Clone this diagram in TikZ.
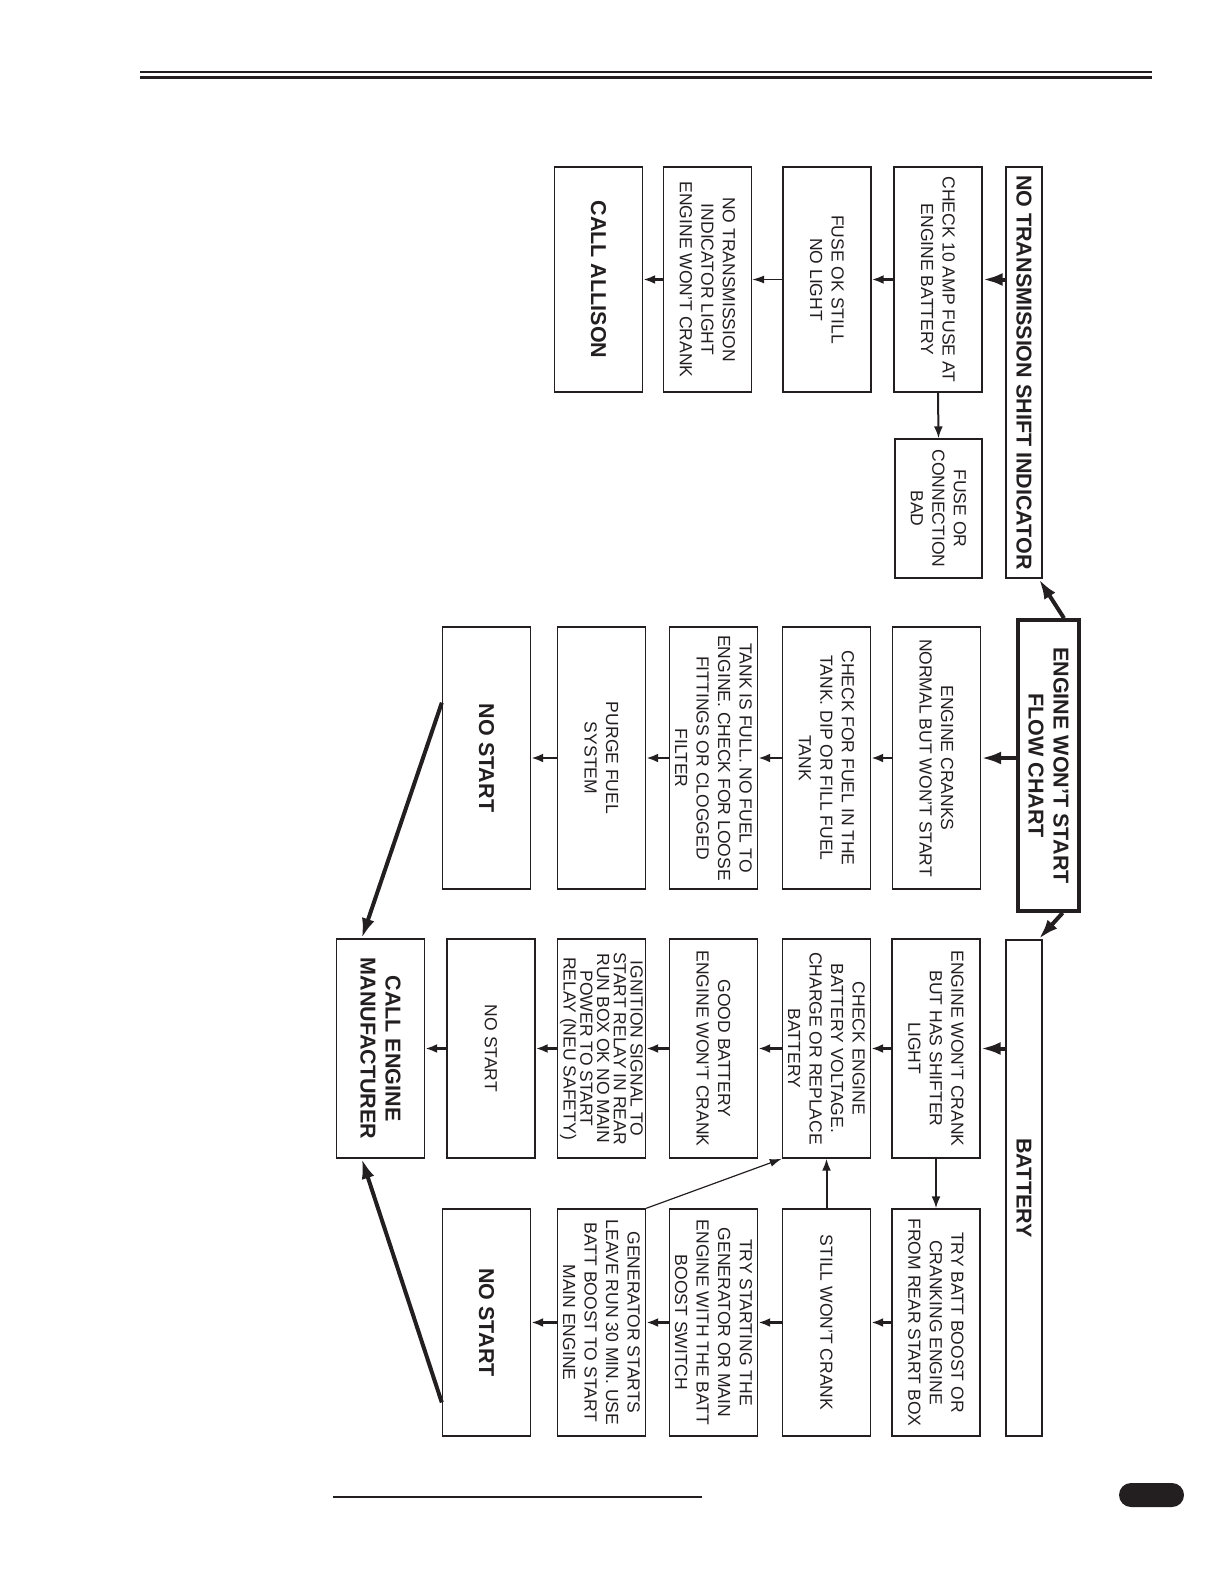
\documentclass[tikz,border=0pt]{standalone}
\usepackage{fontspec}
\setmainfont{Liberation Sans}
\usetikzlibrary{arrows.meta,calc}
\definecolor{ink}{RGB}{35,31,32}

\begin{document}
\begin{tikzpicture}[
  x=0.5bp, y=-0.5bp,
  >=Latex,
  box/.style={draw=ink, text=ink, line width=0.7bp, rotate=-90, align=center, inner sep=1bp,
    font=\fontsize{8.8}{10.8}\selectfont},
  hdbox/.style={box, font=\bfseries\fontsize{10.8}{12.6}\selectfont},
  rowtop/.style={minimum width=112.5bp, minimum height=44bp},
  rowmid/.style={minimum width=131bp, minimum height=44bp},
  rowbot/.style={minimum width=109.5bp, minimum height=44bp},
  rowlow/.style={minimum width=113.5bp, minimum height=44bp},
  arr/.style={draw=ink, line width=1.3bp, -{Latex[length=6bp,width=4.5bp]}},
  thinarr/.style={draw=ink, line width=0.6bp, -{Latex[length=6bp,width=4bp]}},
  bigarr/.style={draw=ink, line width=2bp, -{Latex[length=10bp,width=6.5bp]}}
]
\useasboundingbox (0,0) rectangle (1224,1584);

% page rules
\draw[ink, line width=1.35bp] (140,72) -- (1152,72);
\draw[ink, line width=1.35bp] (140,77.5) -- (1152,77.5);
\draw[ink, line width=0.6bp] (333,1497) -- (702,1497);
\fill[ink, rounded corners=6bp] (1119,1483) rectangle (1184,1507);

% no transmission shift indicator
\node[hdbox, line width=1.2bp, minimum width=205.5bp, minimum height=18bp] (ntsi) at (1024,372.5) {NO TRANSMISSION SHIFT INDICATOR};
\node[box, rowtop] (chkfuse) at (938,279.5) {CHECK 10 AMP FUSE AT\\ENGINE BATTERY};
\node[box, rowtop] (fuseok) at (827,279.5) {FUSE OK STILL\\NO LIGHT};
\node[box, rowtop] (noind) at (707.5,279.5) {NO TRANSMISSION\\INDICATOR LIGHT\\ENGINE WON'T CRANK};
\node[hdbox, rowtop] (allison) at (598.5,279.5) {CALL ALLISON};
\node[box, minimum width=69.5bp, minimum height=43.5bp] (fusebad) at (938.5,508.5) {FUSE OR\\CONNECTION\\BAD};

% engine cranks
\node[hdbox, line width=1.8bp, minimum width=145.5bp, minimum height=30.5bp] (ews) at (1048.5,765.5) {ENGINE WON'T START\\FLOW CHART};
\node[box, rowmid] (cranks) at (936.5,758) {ENGINE CRANKS\\NORMAL BUT WON'T START};
\node[box, rowmid] (fuelchk) at (826.5,758) {CHECK FOR FUEL IN THE\\TANK. DIP OR FILL FUEL\\TANK};
\node[box, rowmid] (tankfull) at (713.5,758) {TANK IS FULL. NO FUEL TO\\ENGINE. CHECK FOR LOOSE\\FITTINGS OR CLOGGED\\FILTER};
\node[box, rowmid] (purge) at (601.5,758) {PURGE FUEL\\SYSTEM};
\node[hdbox, rowmid] (nostartA) at (486.5,758) {NO START};

% battery
\node[hdbox, line width=1bp, minimum width=248bp, minimum height=18bp] (batt) at (1024,1188) {BATTERY};
\node[box, rowbot] (nocrank) at (936,1048.5) {ENGINE WON'T CRANK\\BUT HAS SHIFTER\\LIGHT};
\node[box, rowbot] (chkbatt) at (826.5,1048.5) {CHECK ENGINE\\BATTERY VOLTAGE.\\CHARGE OR REPLACE\\BATTERY};
\node[box, rowbot] (goodbatt) at (713.5,1048.5) {GOOD BATTERY\\ENGINE WON'T CRANK};
\node[box, rowbot, font=\fontsize{8.8}{8.4}\selectfont] (ignition) at (601.5,1048.5) {IGNITION SIGNAL TO\\START RELAY IN REAR\\RUN BOX OK NO MAIN\\POWER TO START\\RELAY (NEU SAFETY)};
\node[box, rowbot] (nostartB) at (491,1048.5) {NO START};
\node[hdbox, rowbot] (callmfr) at (380.5,1048.5) {CALL ENGINE\\MANUFACTURER};

\node[box, rowlow] (trybb) at (936,1322.5) {TRY BATT BOOST OR\\CRANKING ENGINE\\FROM REAR START BOX};
\node[box, rowlow] (stillno) at (826.5,1322.5) {STILL WON'T CRANK};
\node[box, rowlow] (trygen) at (713.5,1322.5) {TRY STARTING THE\\GENERATOR OR MAIN\\ENGINE WITH THE BATT\\BOOST SWITCH};
\node[box, rowlow] (genok) at (601.5,1322.5) {GENERATOR STARTS\\LEAVE RUN 30 MIN. USE\\BATT BOOST TO START\\MAIN ENGINE};
\node[hdbox, rowlow] (nostartC) at (486.5,1322.5) {NO START};

% connectors
\draw[bigarr] ($(ews.south west)!0.74!(ews.north west)$) -- ($(ntsi.south east)!0.89!(ntsi.north east)$);
\draw[bigarr] ($(ews.south east)!0.72!(ews.north east)$) -- ($(batt.south west)!0.89!(batt.north west)$);
\draw[bigarr] (ntsi.south |- chkfuse.north) -- (chkfuse.north);
\draw[bigarr] (ews.south |- cranks.north) -- (cranks.north);
\draw[bigarr] (batt.south |- nocrank.north) -- (nocrank.north);

\draw[arr] (chkfuse.south) -- (fuseok.north);
\draw[thinarr] (fuseok.south) -- (noind.north);
\draw[arr] (noind.south) -- (allison.north);
\draw[arr, line width=1bp] (chkfuse.east) -- (fusebad.west);

\draw[arr] (cranks.south) -- (fuelchk.north);
\draw[arr] (fuelchk.south) -- (tankfull.north);
\draw[arr] (tankfull.south) -- (purge.north);
\draw[arr] (purge.south) -- (nostartA.north);

\draw[arr] (nocrank.south) -- (chkbatt.north);
\draw[arr] (chkbatt.south) -- (goodbatt.north);
\draw[arr] (goodbatt.south) -- (ignition.north);
\draw[arr] (ignition.south) -- (nostartB.north);
\draw[arr] (nostartB.south) -- (callmfr.north);

\draw[arr] (trybb.south) -- (stillno.north);
\draw[arr] (stillno.south) -- (trygen.north);
\draw[arr] (trygen.south) -- (genok.north);
\draw[arr] (genok.south) -- (nostartC.north);

\draw[arr, line width=1bp] (nocrank.east) -- (trybb.west);
\draw[arr, line width=1bp] (stillno.west) -- (chkbatt.east);
\draw[thinarr] (genok.north west) -- (chkbatt.south east);

\draw[bigarr] ($(nostartA.south west)!0.29!(nostartA.south east)$) -- ($(callmfr.south west)!0.29!(callmfr.north west)$);
\draw[bigarr] ($(nostartC.south west)!0.85!(nostartC.south east)$) -- ($(callmfr.south east)!0.29!(callmfr.north east)$);
\end{tikzpicture}
\end{document}
